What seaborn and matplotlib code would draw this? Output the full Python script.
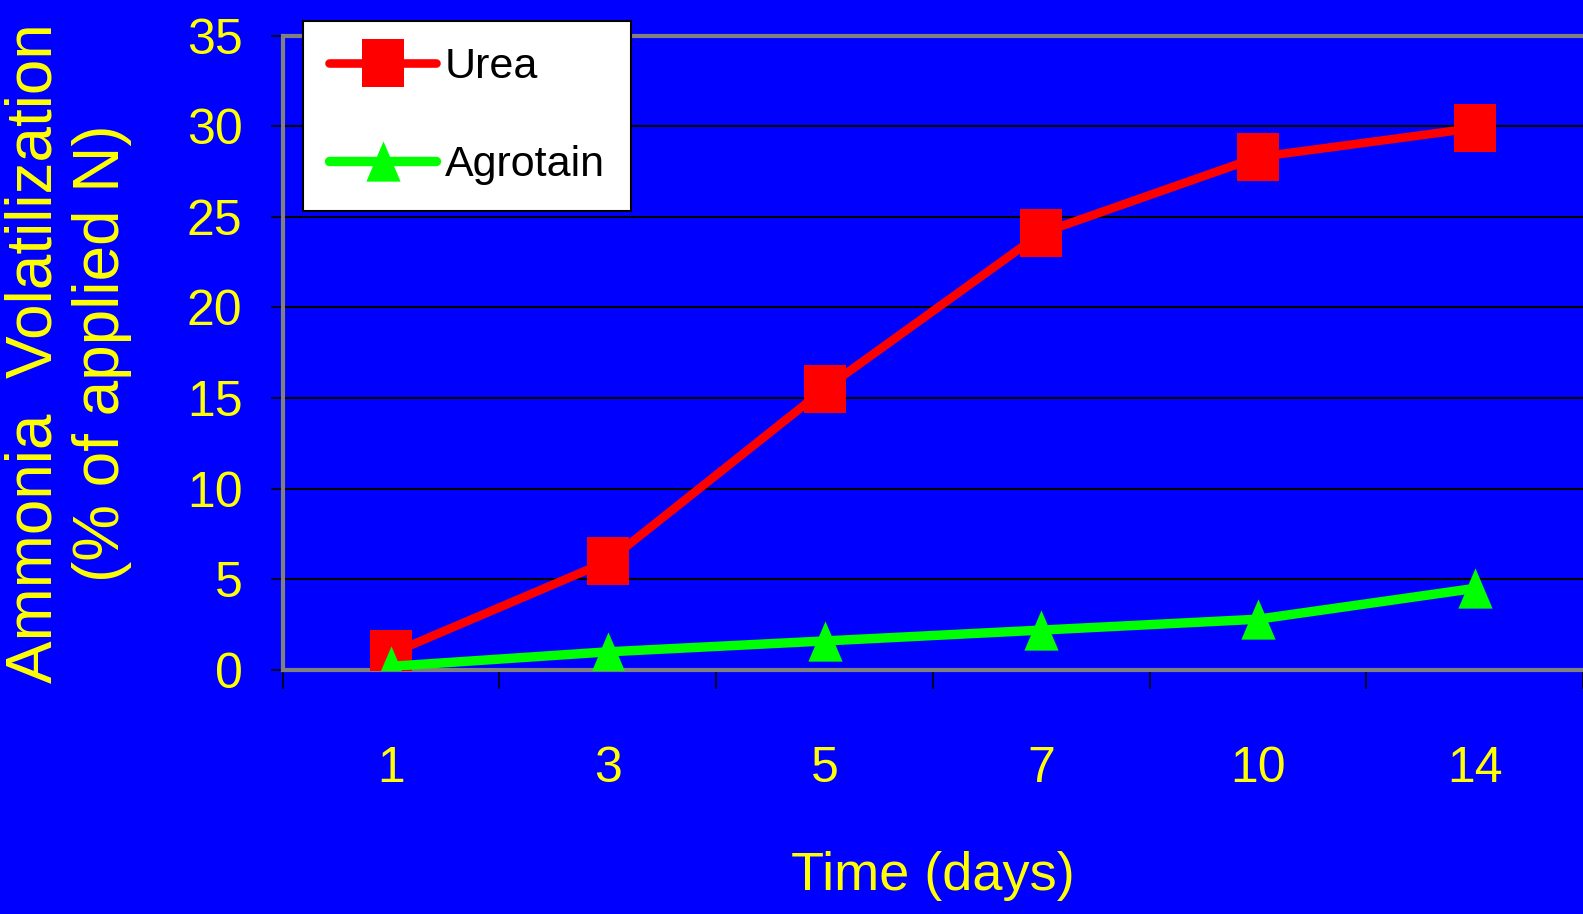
import matplotlib
matplotlib.use("Agg")
import matplotlib.pyplot as plt
import pandas as pd
import seaborn as sns

# Data
days = ["1", "3", "5", "7", "10", "14"]
urea = [0.9, 6.0, 15.5, 24.1, 28.3, 29.9]
agrotain = [0.2, 1.0, 1.6, 2.2, 2.8, 4.5]
series_names = ["Urea", "Agrotain"]
y_ticks = [0, 5, 10, 15, 20, 25, 30, 35]

BLUE = "#0000FF"
YELLOW = "#FFFF00"
RED = "#FF0000"
GREEN = "#00FF00"
GRAY = "#808080"

sns.set_theme(style="white")
plt.rcParams['font.family'] = ['Liberation Sans', 'DejaVu Sans']

df = pd.DataFrame({
    "Day": days * 2,
    "Value": urea + agrotain,
    "Series": [series_names[0]] * len(days) + [series_names[1]] * len(days),
})

# slightly tall markers, as in the reference
sq = [(-0.85, -1), (0.85, -1), (0.85, 1), (-0.85, 1), (-0.85, -1)]
tri = [(0, 1), (-0.85, -1), (0.85, -1), (0, 1)]

fig = plt.figure(figsize=(15.83, 9.14), dpi=100, facecolor=BLUE)
ax = fig.add_axes([0.1786, 0.267, 0.8214, 0.694])
ax.set_facecolor(BLUE)

sns.lineplot(data=df[df["Series"] == "Urea"], x="Day", y="Value", sort=False, ax=ax,
             color=RED, linewidth=6.2, marker=sq, markersize=35,
             markeredgecolor=RED, markeredgewidth=0, label="Urea", zorder=3)
sns.lineplot(data=df[df["Series"] == "Agrotain"], x="Day", y="Value", sort=False, ax=ax,
             color=GREEN, linewidth=6.8, marker=tri, markersize=29,
             markeredgecolor=GREEN, markeredgewidth=0, label="Agrotain", zorder=4)

ax.set_xlim(-0.5, len(days) - 0.5)
ax.set_ylim(0, 35)
ax.set_yticks(y_ticks)
ax.yaxis.grid(True, color="black", linewidth=1.5)
ax.xaxis.grid(False)
ax.set_axisbelow(True)

# category boundary ticks on x, labels at category centres
ax.set_xticks([i - 0.5 for i in range(len(days) + 1)], minor=True)
ax.tick_params(axis="x", which="minor", length=14, width=1.2, color="black", direction="out")
ax.tick_params(axis="x", which="major", length=0, pad=55, labelsize=36, labelcolor=YELLOW)
ax.tick_params(axis="y", length=9, width=1.2, color="black", direction="out", pad=20,
               labelsize=36, labelcolor=YELLOW)
ax.tick_params(bottom=True, left=True, which="both")

for side in ["top", "left", "bottom"]:
    ax.spines[side].set_color(GRAY)
    ax.spines[side].set_linewidth(3)
ax.spines["right"].set_visible(False)

ax.set_xlabel("Time (days)", color=YELLOW, fontsize=39, labelpad=42)
ax.set_ylabel("")
fig.text(0.043, 0.614, "Ammonia  Volatilization\n(% of applied N)", rotation=90,
         ha="center", va="center", multialignment="center", color=YELLOW,
         fontsize=46, linespacing=1.15)

leg = ax.legend(loc="upper left", bbox_to_anchor=(303 / 1583, 1 - 21 / 914),
                bbox_transform=fig.transFigure, borderaxespad=0, frameon=True,
                fancybox=False, facecolor="white", edgecolor="black", framealpha=1,
                handlelength=2.5, handletextpad=0.2, borderpad=0.6, labelspacing=1.35,
                prop={"size": 31})
leg.get_frame().set_linewidth(1.5)
for t in leg.get_texts():
    t.set_color("black")

fig.savefig("out.png", dpi=100, facecolor=BLUE)
